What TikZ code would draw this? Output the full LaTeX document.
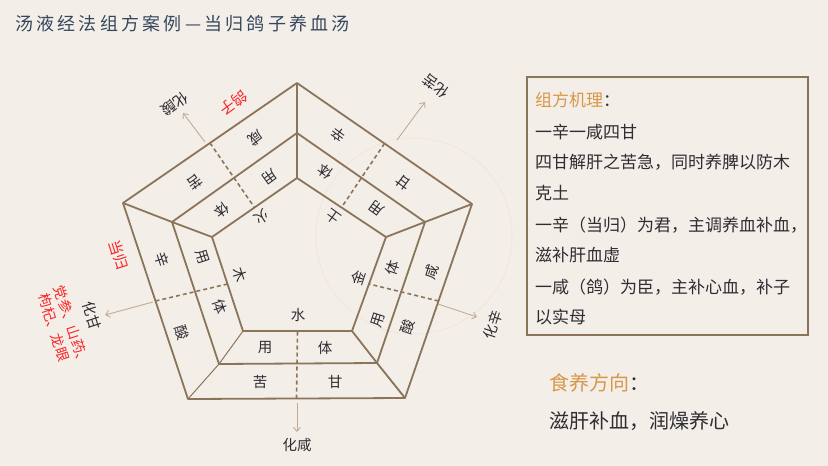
\documentclass[tikz,border=0pt]{standalone}
\usepackage{fontspec}
\setmainfont{Noto Sans CJK SC}
\usetikzlibrary{calc,arrows.meta}

\definecolor{bgcol}{RGB}{244,238,233}
\definecolor{linecol}{RGB}{139,117,90}
\definecolor{arrowcol}{RGB}{192,172,148}
\definecolor{txtcol}{RGB}{45,45,50}
\definecolor{redcol}{RGB}{250,35,35}
\definecolor{orangecol}{RGB}{214,152,72}
\definecolor{titlecol}{RGB}{52,72,92}
\definecolor{markcol}{RGB}{239,231,224}

\tikzset{
  penta/.style={draw=linecol, line width=1.8pt, line join=round},
  halfline/.style={draw=linecol, line width=1.6pt, dash pattern=on 4pt off 3pt},
  flow/.style={draw=arrowcol, line width=0.9pt, -{Straight Barb[length=4pt,width=7pt]}},
  lbl/.style={text=txtcol, font=\fontsize{14.5}{14.5}\selectfont, inner sep=0pt},
  redlbl/.style={text=redcol, font=\fontsize{15}{15}\selectfont, inner sep=0pt},
  boxtxt/.style={text=txtcol, font=\fontsize{17}{17}\selectfont, inner sep=0pt, anchor=base west},
  bigtxt/.style={text=txtcol, font=\fontsize{20}{20}\selectfont, inner sep=0pt, anchor=base west}
}

\begin{document}
\begin{tikzpicture}[x=1pt,y=1pt]
	\fill[bgcol] (0,0) rectangle (828,-466);
	\useasboundingbox (0,0) rectangle (828,-466);
	\draw[markcol, line width=1pt] (414,-236) circle[radius=98pt];
	
	% title
	\node[anchor=base west, inner sep=0pt, text=titlecol,
	  font=\fontsize{18}{18}\selectfont\addfontfeatures{LetterSpace=18}] (title) at (15,-30)
	  {汤液经法组方案例—当归鸽子养血汤};
	
	% pentagon corners
	\coordinate (O1) at (297,-83);
	\coordinate (O2) at (472,-204);
	\coordinate (O3) at (405,-398);
	\coordinate (O4) at (188,-399);
	\coordinate (O5) at (123,-203);
	\coordinate (M1) at (297,-133);
	\coordinate (M2) at (425,-222);
	\coordinate (M3) at (377,-363);
	\coordinate (M4) at (219,-364);
	\coordinate (M5) at (172,-222);
	\coordinate (I1) at (297,-178);
	\coordinate (I2) at (386,-237);
	\coordinate (I3) at (352,-331);
	\coordinate (I4) at (243,-331);
	\coordinate (I5) at (212,-237);
	
	\draw[penta] (O1) -- (O2) -- (O3) -- (O4) -- (O5) -- cycle;
	\draw[penta] (M1) -- (M2) -- (M3) -- (M4) -- (M5) -- cycle;
	\draw[penta] (I1) -- (I2) -- (I3) -- (I4) -- (I5) -- cycle;
	\draw[penta] (O1) -- (M1) -- (I1);
	\draw[penta] (O2) -- (M2) -- (I2);
	\draw[penta] (O3) -- (M3) -- (I3);
	\draw[penta, line width=1pt] (O4) -- (M4) -- (I4);
	\draw[penta] (O5) -- (M5) -- (I5);
	
	% dashed halves
	\coordinate (P12) at ($(O1)!0.5!(O2)$);
	\coordinate (P23) at ($(O2)!0.5!(O3)$);
	\coordinate (P34) at ($(O3)!0.5!(O4)$);
	\coordinate (P45) at ($(O4)!0.5!(O5)$);
	\coordinate (P51) at ($(O5)!0.5!(O1)$);
	\coordinate (Q12) at ($(I1)!0.5!(I2)$);
	\coordinate (Q23) at ($(I2)!0.5!(I3)$);
	\coordinate (Q34) at ($(I3)!0.5!(I4)$);
	\coordinate (Q45) at ($(I4)!0.5!(I5)$);
	\coordinate (Q51) at ($(I5)!0.5!(I1)$);
	\draw[halfline] (P12) -- (Q12);
	\draw[halfline] (P23) -- (Q23);
	\draw[halfline] (P34) -- (Q34);
	\draw[halfline] (P45) -- (Q45);
	\draw[halfline] (P51) -- (Q51);
	
	% arrows out
	\coordinate (A1) at (205,-142);
	\coordinate (T1) at (183,-113);
	\coordinate (A2) at (397,-140);
	\coordinate (T2) at (425,-102);
	\coordinate (A3) at (438,-304);
	\coordinate (T3) at (477,-317);
	\coordinate (A4) at (297,-403);
	\coordinate (T4) at (297,-432);
	\coordinate (A5) at (153,-302);
	\coordinate (T5) at (105,-315);
	\draw[flow] (A1) -- (T1);
	\draw[flow] (A2) -- (T2);
	\draw[flow] (A3) -- (T3);
	\draw[flow] (A4) -- (T4);
	\draw[flow] (A5) -- (T5);
	
	% water
	\node[lbl] (wKu) at (260,-382) {苦};
	\node[lbl] (wGan) at (335,-382) {甘};
	\node[lbl] (wYong) at (265,-348) {用};
	\node[lbl] (wTi) at (325,-348) {体};
	\node[lbl] (wShui) at (298,-315) {水};
	\node[lbl] (wHua) at (297,-445) {化咸};
	
	% metal
	\node[lbl, rotate=72] (mXian) at (432,-272) {咸};
	\node[lbl, rotate=72] (mSuan) at (408,-327) {酸};
	\node[lbl, rotate=72] (mTi) at (393,-268) {体};
	\node[lbl, rotate=72] (mYong) at (378,-320) {用};
	\node[lbl, rotate=72] (mJin) at (358,-278) {金};
	\node[lbl, rotate=72] (mHua) at (493,-325) {化辛};
	
	% earth
	\node[lbl, rotate=144] (eXin) at (338,-135) {辛};
	\node[lbl, rotate=144] (eGan) at (403,-183) {甘};
	\node[lbl, rotate=144] (eTi) at (325,-172) {体};
	\node[lbl, rotate=144] (eYong) at (377,-208) {用};
	\node[lbl, rotate=144] (eTu) at (333,-217) {土};
	\node[lbl, rotate=144] (eHua) at (436,-86) {化苦};
	
	% fire
	\node[lbl, rotate=216] (fXian) at (256,-138) {咸};
	\node[lbl, rotate=216] (fKu) at (195,-182) {苦};
	\node[lbl, rotate=216] (fYong) at (270,-177) {用};
	\node[lbl, rotate=216] (fTi) at (222,-210) {体};
	\node[lbl, rotate=216] (fHuo) at (262,-217) {火};
	\node[lbl, rotate=216] (fHua) at (175,-104) {化酸};
	\node[redlbl, rotate=216] (fRed) at (234,-103) {鸽子};
	
	% wood
	\node[lbl, rotate=-72] (dXin) at (162,-260) {辛};
	\node[lbl, rotate=-72] (dSuan) at (182,-333) {酸};
	\node[lbl, rotate=-72] (dYong) at (202,-257) {用};
	\node[lbl, rotate=-72] (dTi) at (220,-307) {体};
	\node[lbl, rotate=-72] (dMu) at (240,-275) {木};
	\node[lbl, rotate=-72] (dHua) at (92,-316) {化甘};
	\node[redlbl, rotate=-72] (dRedA) at (119,-255) {当归};
	\node[redlbl, rotate=-72, anchor=west, font=\fontsize{14}{14}\selectfont] (dRedB) at (59,-286) {党参、山药、};
	\node[redlbl, rotate=-72, anchor=west, font=\fontsize{14}{14}\selectfont] (dRedC) at (43,-294) {枸杞、龙眼};
	
	% box on the right
	\draw[linecol, line width=1.8pt] (527,-77) rectangle (808,-335);
	\node[boxtxt] (mech1) at (535,-106) {\textcolor{orangecol}{组方机理}：};
	\node[boxtxt] (mech2) at (535,-138) {一辛一咸四甘};
	\node[boxtxt] (mech3) at (535,-168) {四甘解肝之苦急，同时养脾以防木};
	\node[boxtxt] (mech4) at (535,-199) {克土};
	\node[boxtxt] (mech5) at (535,-231) {一辛（当归）为君，主调养血补血，};
	\node[boxtxt] (mech6) at (535,-261) {滋补肝血虚};
	\node[boxtxt] (mech7) at (535,-293) {一咸（鸽）为臣，主补心血，补子};
	\node[boxtxt] (mech8) at (535,-323) {以实母};
	
	\node[bigtxt] (diet1) at (549,-390) {\textcolor{orangecol}{食养方向}：};
	\node[bigtxt] (diet2) at (549,-428) {滋肝补血，润燥养心};
\end{tikzpicture}
\end{document}
